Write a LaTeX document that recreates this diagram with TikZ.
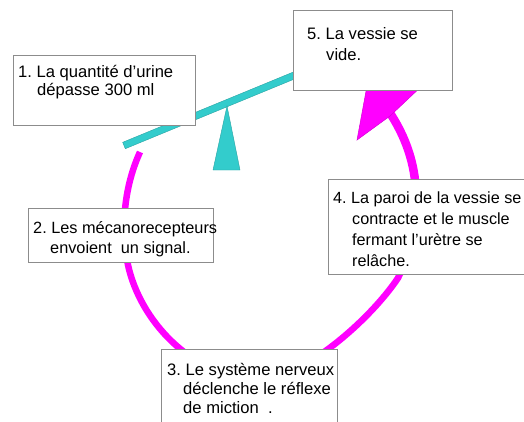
\documentclass[tikz,border=0pt]{standalone}
\usepackage{fontspec}
\setmainfont{Liberation Sans}
\frenchspacing
\definecolor{seesaw}{RGB}{51,204,204}
\definecolor{loop}{RGB}{255,0,255}
\newcommand{\ind}{\hspace*{19pt}}

\begin{document}
\begin{tikzpicture}[x=1pt,y=-1pt,
  box/.style={draw=black!45,line width=1.1pt,fill=white,anchor=north west,inner sep=0pt},
  txt/.style={anchor=base west,align=left,inner sep=0pt,font=\fontsize{16.6}{19.5}\selectfont},
  loopline/.style={draw=loop,line width=6.5pt}]
  \useasboundingbox (0,0) rectangle (524,421);
  \clip (0,0) rectangle (524,421);
  % seesaw
  \filldraw[fill=seesaw,draw=seesaw!80!black,line width=0.4pt]
    (122.7,142.3) -- (125.3,148.7) -- (301.3,76.2) -- (298.7,69.8) -- cycle;
  \filldraw[fill=seesaw,draw=seesaw!80!black,line width=0.4pt]
    (227,106) -- (240,170) -- (213,170) -- cycle;
  % loop
  \coordinate (start) at (140,152);
  \coordinate (bottom) at (255,380);
  \coordinate (right) at (415,180);
  \coordinate (notch) at (390,113);
  \draw[loopline] (start) .. controls (125,185) and (120,225) .. (128,265)
    .. controls (140,320) and (190,375) .. (bottom)
    .. controls (300,382) and (370,320) .. (398,278)
    .. controls (412,250) and (418,210) .. (right);
  \draw[loopline,line width=8.5pt] (right) .. controls (412,155) and (403,133) .. (notch);
  \filldraw[fill=loop,draw=loop!85!black,line width=0.5pt]
    (357,140) -- (369,75) -- (425,83) -- (390,116) -- cycle;
  % boxes
  \node[box,minimum width=182,minimum height=70] (b1) at (13,55) {};
  \node[box,minimum width=159,minimum height=80] (b5) at (293,10) {};
  \node[box,minimum width=185,minimum height=54] (b2) at (28,208) {};
  \node[box,minimum width=220,minimum height=95] (b4) at (328,179) {};
  \node[box,minimum width=176,minimum height=100] (b3) at (161,349) {};
  % texts (anchored on the last line)
  \node[txt,font=\fontsize{16.6}{18.5}\selectfont] (t1) at (18,95.5)
    {1. La quantité d’urine\\\ind dépasse 300 ml};
  \node[txt,font=\fontsize{16.6}{21}\selectfont] (t5) at (307,60)
    {5. La vessie se\\\ind vide.};
  \node[txt,font=\fontsize{16.3}{20}\selectfont] (t2) at (33,253)
    {2. Les mécanorecepteurs\\\hspace*{17pt}envoient\ \ un signal.};
  \node[txt,font=\fontsize{16.2}{20.7}\selectfont] (t4) at (333,266)
    {4. La paroi de la vessie se\\\ind contracte et le muscle\\\ind fermant l’urètre se\\\ind relâche.};
  \node[txt,font=\fontsize{16.6}{19}\selectfont] (t3) at (167,413)
    {3. Le système nerveux\\\hspace*{16pt}déclenche le réflexe\\\hspace*{16pt}de miction\ \ .};
\end{tikzpicture}
\end{document}
